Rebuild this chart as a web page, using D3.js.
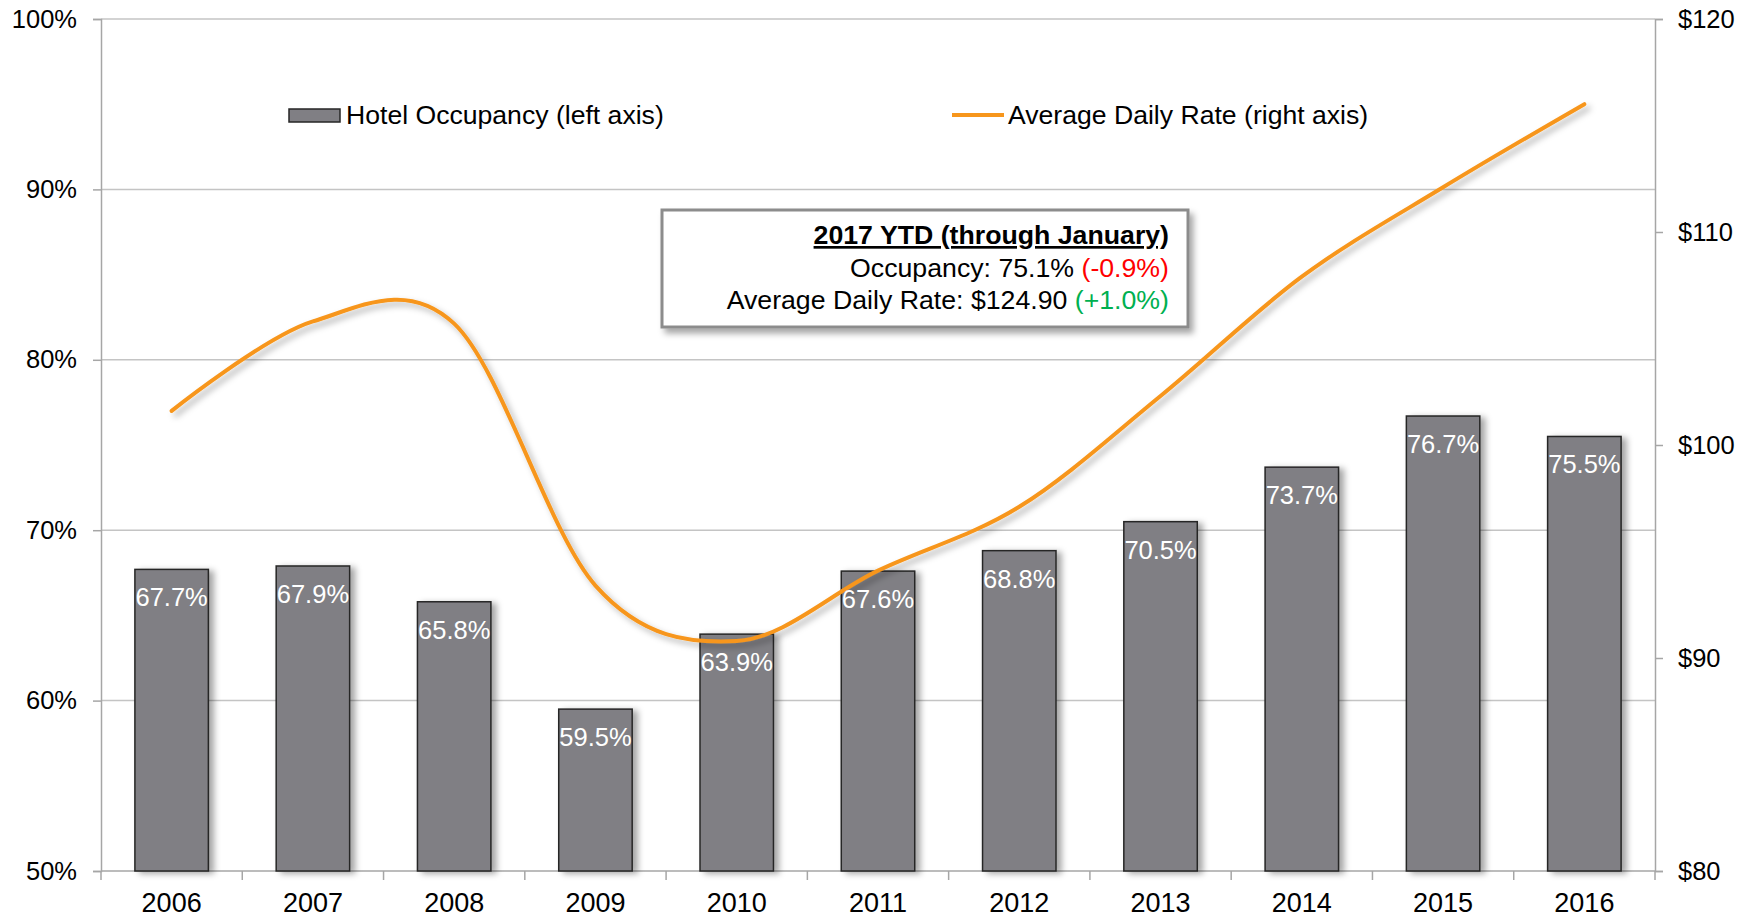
<!DOCTYPE html>
<html>
<head>
<meta charset="utf-8">
<script src="https://cdn.jsdelivr.net/npm/d3@7"></script>
<style>
  html, body { margin: 0; padding: 0; background: #fff; }
  svg { display: block; font-family: "Liberation Sans", Arial, sans-serif; }
</style>
</head>
<body>
<svg id="chart" width="1756" height="917"></svg>
<script>
// chart data
const years = ['2006', '2007', '2008', '2009', '2010', '2011', '2012', '2013', '2014', '2015', '2016'];
const occupancy = [67.7, 67.9, 65.8, 59.5, 63.9, 67.6, 68.8, 70.5, 73.7, 76.7, 75.5];
const adr = [101.6, 105.8, 105.7, 93.4, 90.8, 94.1, 97.1, 102.3, 107.9, 112.1, 116.0];
const leftTicks = [50, 60, 70, 80, 90, 100];
const rightTicks = [80, 90, 100, 110, 120];

const svg = d3.select('#chart');
const margin = { top: 19, right: 101, bottom: 46, left: 101 };
const width = 1756 - margin.left - margin.right;
const height = 917 - margin.top - margin.bottom;

// filters for the soft shadows
const defs = svg.append('defs');
const barShadow = defs.append('filter').attr('id', 'barShadow')
    .attr('x', '-20%').attr('y', '-20%').attr('width', '150%').attr('height', '150%');
barShadow.append('feDropShadow').attr('dx', 5).attr('dy', 2).attr('stdDeviation', 3)
    .attr('flood-color', '#000').attr('flood-opacity', 0.35);
const lineShadow = defs.append('filter').attr('id', 'lineShadow')
    .attr('x', '-10%').attr('y', '-10%').attr('width', '120%').attr('height', '120%');
lineShadow.append('feDropShadow').attr('dx', 4).attr('dy', 4).attr('stdDeviation', 3)
    .attr('flood-color', '#000').attr('flood-opacity', 0.3);
const boxShadow = defs.append('filter').attr('id', 'boxShadow')
    .attr('x', '-10%').attr('y', '-10%').attr('width', '125%').attr('height', '140%');
boxShadow.append('feDropShadow').attr('dx', 4).attr('dy', 5).attr('stdDeviation', 3)
    .attr('flood-color', '#000').attr('flood-opacity', 0.35);

const g = svg.append('g').attr('transform', `translate(${margin.left},${margin.top})`);

// scales
const x = d3.scaleBand().domain(years).range([0, width]).paddingInner(0.48).paddingOuter(0.24);
const xBand = d3.scaleBand().domain(years).range([0, width]);
const yLeft = d3.scaleLinear().domain([50, 100]).range([height, 0]);
const yRight = d3.scaleLinear().domain([80, 120]).range([height, 0]);

// gridlines
g.append('g').selectAll('line').data(leftTicks.filter(d => d > 50)).join('line')
    .attr('x1', 0).attr('x2', width)
    .attr('y1', d => yLeft(d)).attr('y2', d => yLeft(d))
    .attr('stroke', '#c4c4c4').attr('stroke-width', 1.5);

// axes
const fontSize = '25.5px';
const leftAxis = g.append('g')
    .call(d3.axisLeft(yLeft).tickValues(leftTicks).tickFormat(d => d + '%').tickSize(8).tickPadding(16));
const rightAxis = g.append('g').attr('transform', `translate(${width},0)`)
    .call(d3.axisRight(yRight).tickValues(rightTicks).tickFormat(d => '$' + d).tickSize(8).tickPadding(15));
const bottomAxis = g.append('g').attr('transform', `translate(0,${height})`)
    .call(d3.axisBottom(xBand).tickSize(0).tickPadding(22));

[leftAxis, rightAxis, bottomAxis].forEach(a => {
    a.select('.domain').attr('stroke', '#a6a6a6').attr('stroke-width', 1.5);
    a.selectAll('.tick line').attr('stroke', '#a6a6a6').attr('stroke-width', 1.5);
    a.selectAll('text').attr('font-size', fontSize).attr('fill', '#000')
        .attr('font-family', '"Liberation Sans", Arial, sans-serif');
});
bottomAxis.select('.domain').attr('d', `M0,0H${width}`);
bottomAxis.selectAll('text').attr('dy', '0.71em').attr('font-size', '27px');

// category separators under the x axis
g.append('g').selectAll('line').data(d3.range(years.length + 1)).join('line')
    .attr('x1', i => i * xBand.step()).attr('x2', i => i * xBand.step())
    .attr('y1', height).attr('y2', height + 9)
    .attr('stroke', '#a6a6a6').attr('stroke-width', 1.5);

// bars
g.append('g').selectAll('rect').data(occupancy).join('rect')
    .attr('x', (d, i) => x(years[i]))
    .attr('y', d => yLeft(d))
    .attr('width', x.bandwidth())
    .attr('height', d => height - yLeft(d))
    .attr('fill', '#807f84')
    .attr('stroke', '#262626')
    .attr('stroke-width', 1.5)
    .attr('filter', 'url(#barShadow)');

// average daily rate line
const line = d3.line()
    .x((d, i) => xBand(years[i]) + xBand.bandwidth() / 2)
    .y(d => yRight(d))
    .curve(d3.curveCardinal.tension(0));

g.append('path').datum(adr)
    .attr('d', line)
    .attr('fill', 'none')
    .attr('stroke', '#f7961c')
    .attr('stroke-width', 4)
    .attr('stroke-linecap', 'round')
    .attr('filter', 'url(#lineShadow)');

// bar value labels
g.append('g').selectAll('text').data(occupancy).join('text')
    .attr('x', (d, i) => x(years[i]) + x.bandwidth() / 2)
    .attr('y', d => yLeft(d) + 37)
    .attr('text-anchor', 'middle')
    .attr('font-size', fontSize)
    .attr('fill', '#fff')
    .text(d => d.toFixed(1) + '%');

// legend
const legendSize = '26.6px';
const legend = svg.append('g');
legend.append('rect').attr('x', 289).attr('y', 109).attr('width', 51).attr('height', 13)
    .attr('fill', '#807f84').attr('stroke', '#262626').attr('stroke-width', 1.5);
legend.append('text').attr('x', 346).attr('y', 124).attr('font-size', legendSize)
    .text('Hotel Occupancy (left axis)');
legend.append('line').attr('x1', 952).attr('x2', 1004).attr('y1', 115).attr('y2', 115)
    .attr('stroke', '#f7961c').attr('stroke-width', 4);
legend.append('text').attr('x', 1008).attr('y', 124).attr('font-size', legendSize)
    .text('Average Daily Rate (right axis)');

// 2017 YTD box
const box = svg.append('g');
box.append('rect').attr('x', 662).attr('y', 210).attr('width', 526).attr('height', 117)
    .attr('fill', '#fff').attr('stroke', '#8c8c8c').attr('stroke-width', 3)
    .attr('filter', 'url(#boxShadow)');
const boxRight = 1169;
const boxSize = '26.7px';
box.append('text').attr('x', boxRight).attr('y', 244).attr('text-anchor', 'end')
    .attr('font-size', boxSize).attr('font-weight', 'bold')
    .attr('text-decoration', 'underline')
    .text('2017 YTD (through January)');
const occText = box.append('text').attr('x', boxRight).attr('y', 277).attr('text-anchor', 'end')
    .attr('font-size', boxSize);
occText.append('tspan').text('Occupancy: 75.1% ');
occText.append('tspan').attr('fill', '#ff0000').text('(-0.9%)');
const adrText = box.append('text').attr('x', boxRight).attr('y', 309).attr('text-anchor', 'end')
    .attr('font-size', boxSize);
adrText.append('tspan').text('Average Daily Rate: $124.90 ');
adrText.append('tspan').attr('fill', '#00b050').text('(+1.0%)');
</script>
</body>
</html>
